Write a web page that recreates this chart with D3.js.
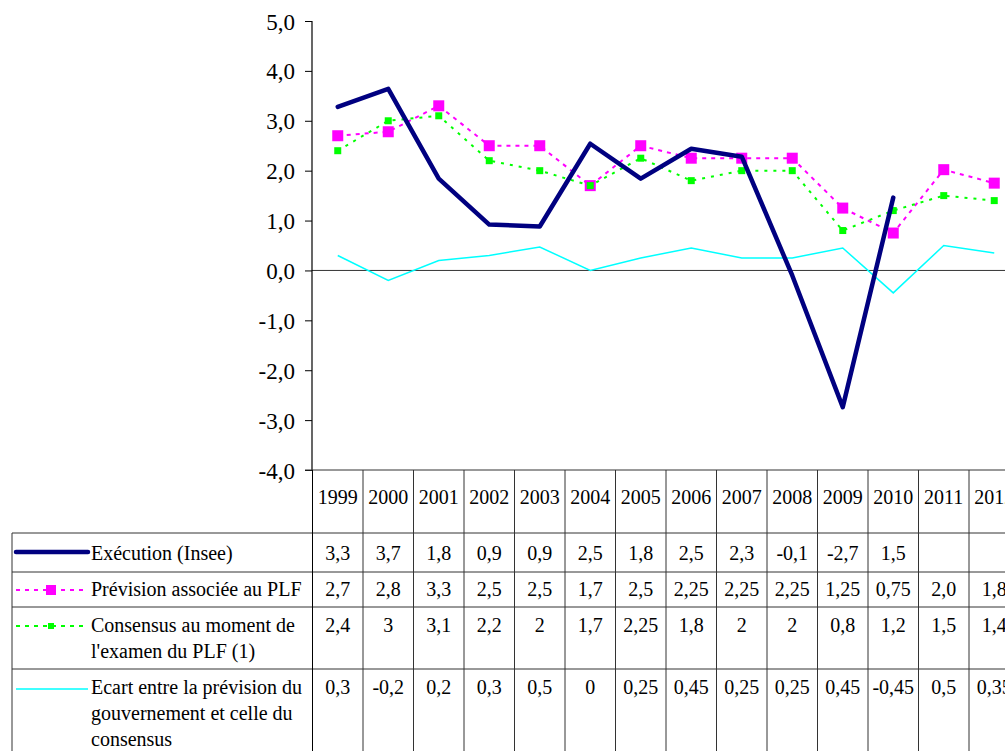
<!DOCTYPE html>
<html><head><meta charset="utf-8">
<script src="https://cdn.jsdelivr.net/npm/d3@7"></script>
<style>body{margin:0;background:#fff;overflow:hidden}svg{display:block}</style>
</head><body><svg id="c" width="1005" height="751"></svg>
<script>
const years = ["1999","2000","2001","2002","2003","2004","2005","2006","2007","2008","2009","2010","2011","2012"];
const yTicks = [5,4,3,2,1,0,-1,-2,-3,-4];
// plotted values
const execution = [3.28,3.64,1.84,0.92,0.88,2.54,1.84,2.44,2.28,-0.1,-2.74,1.46,null,null];
const prevision = [2.7,2.78,3.3,2.5,2.5,1.7,2.5,2.25,2.25,2.25,1.25,0.75,2.02,1.75];
const consensus = [2.4,3.0,3.1,2.2,2.0,1.7,2.25,1.8,2.0,2.0,0.8,1.2,1.5,1.4];
const ecart = [0.3,-0.2,0.2,0.3,0.47,0,0.25,0.45,0.25,0.25,0.45,-0.45,0.5,0.35];
// table labels
const execLabels = ["3,3","3,7","1,8","0,9","0,9","2,5","1,8","2,5","2,3","-0,1","-2,7","1,5","",""];
const prevLabels = ["2,7","2,8","3,3","2,5","2,5","1,7","2,5","2,25","2,25","2,25","1,25","0,75","2,0","1,8"];
const consLabels = ["2,4","3","3,1","2,2","2","1,7","2,25","1,8","2","2","0,8","1,2","1,5","1,4"];
const ecartLabels = ["0,3","-0,2","0,2","0,3","0,5","0","0,25","0,45","0,25","0,25","0,45","-0,45","0,5","0,35"];
const seriesNames = [["Exécution (Insee)"],["Prévision associée au PLF"],["Consensus au moment de","l'examen du PLF (1)"],["Ecart entre la prévision du","gouvernement et celle du","consensus"]];

const FONT = '"Liberation Serif"';
const svg = d3.select("#c");
const x = d3.scaleBand().domain(years).range([312.5, 312.5 + 50.5*years.length]);
const y = d3.scaleLinear().domain([-4,5]).range([470,21]);
const cx = d => x(d) + x.bandwidth()/2;
const fmt = v => d3.format(".1f")(v).replace(".", ",").replace("\u2212","-");

// zero line
svg.append("line").attr("x1",312).attr("x2",1005).attr("y1",y(0)).attr("y2",y(0)).attr("stroke","#333").attr("stroke-width",1);
// y axis
const ax = svg.append("g").attr("transform","translate(312,0)").call(d3.axisLeft(y).tickValues(yTicks).tickFormat(fmt).tickSize(7).tickPadding(10));
ax.select(".domain").attr("stroke","#000").attr("stroke-width",1.2).attr("d","M0,21V470");
ax.selectAll(".tick line").attr("stroke","#000");
ax.selectAll(".tick text").attr("fill","#000").attr("dy","0.35em").style("font-family",FONT).style("font-size","23px");

// table
const rowLines = [533,572,607,669];
const tg = svg.append("g").attr("stroke","#333").attr("stroke-width",1);
tg.append("line").attr("x1",305).attr("x2",1005).attr("y1",470).attr("y2",470);
rowLines.forEach(r=>tg.append("line").attr("x1",12).attr("x2",1005).attr("y1",r).attr("y2",r));
tg.append("line").attr("x1",12).attr("x2",12).attr("y1",533).attr("y2",751);
years.forEach(yr=>tg.append("line").attr("x1",x(yr)+x.bandwidth()).attr("x2",x(yr)+x.bandwidth()).attr("y1",470).attr("y2",751));
tg.append("line").attr("x1",312.5).attr("x2",312.5).attr("y1",470).attr("y2",751).attr("stroke","#000");

const txt = svg.append("g");
txt.selectAll(".yr").data(years).join("text").attr("x",d=>cx(d)).attr("y",504).attr("text-anchor","middle").text(d=>d);
const tableRows = [[execLabels,560],[prevLabels,596],[consLabels,632],[ecartLabels,694]];
tableRows.forEach(([labs,yy])=>{
  txt.append("g").selectAll("text").data(labs).join("text").attr("x",(d,i)=>cx(years[i])).attr("y",yy).attr("text-anchor","middle").text(d=>d);
});
// legend texts
const legY = [[560],[596],[632,658],[694,720,746]];
seriesNames.forEach((lines,i)=>lines.forEach((t,j)=>txt.append("text").attr("x",91).attr("y",legY[i][j]).text(t)));
txt.selectAll("text").style("font-family",FONT).style("font-size","20px").attr("fill","#000");

// series
const line = d3.line().defined(d=>d.v!==null).x(d=>cx(d.yr)).y(d=>y(d.v));
const toPts = arr => arr.map((v,i)=>({yr:years[i],v}));
const plot = svg.append("g");
plot.append("path").datum(toPts(ecart)).attr("d",line).attr("fill","none").attr("stroke","#00FFFF").attr("stroke-width",1.5);
plot.append("path").datum(toPts(prevision)).attr("d",line).attr("fill","none").attr("stroke","#FF00FF").attr("stroke-width",2).attr("stroke-dasharray","4,5");
plot.selectAll(".pm").data(toPts(prevision)).join("rect").attr("x",d=>cx(d.yr)-5.5).attr("y",d=>y(d.v)-5.5).attr("width",11).attr("height",11).attr("fill","#FF00FF");
plot.append("path").datum(toPts(consensus)).attr("d",line).attr("fill","none").attr("stroke","#00FF00").attr("stroke-width",2).attr("stroke-dasharray","3,6");
plot.selectAll(".cm").data(toPts(consensus)).join("rect").attr("x",d=>cx(d.yr)-3.5).attr("y",d=>y(d.v)-3.5).attr("width",7).attr("height",7).attr("fill","#00FF00");
plot.append("path").datum(toPts(execution)).attr("d",line).attr("fill","none").attr("stroke","#000080").attr("stroke-width",4.5).attr("stroke-linejoin","round").attr("stroke-linecap","round");

// legend symbols
const lg = svg.append("g");
lg.append("line").attr("x1",16).attr("x2",88).attr("y1",552).attr("y2",552).attr("stroke","#000080").attr("stroke-width",4.5).attr("stroke-linecap","round");
lg.append("line").attr("x1",16).attr("x2",88).attr("y1",590).attr("y2",590).attr("stroke","#FF00FF").attr("stroke-width",2).attr("stroke-dasharray","4,5");
lg.append("rect").attr("x",46).attr("y",585).attr("width",10).attr("height",10).attr("fill","#FF00FF");
lg.append("line").attr("x1",16).attr("x2",88).attr("y1",626).attr("y2",626).attr("stroke","#00FF00").attr("stroke-width",2).attr("stroke-dasharray","4,5");
lg.append("rect").attr("x",48).attr("y",623).attr("width",6).attr("height",6).attr("fill","#00FF00");
lg.append("line").attr("x1",16).attr("x2",88).attr("y1",689).attr("y2",689).attr("stroke","#00FFFF").attr("stroke-width",1.5);
</script></body></html>
